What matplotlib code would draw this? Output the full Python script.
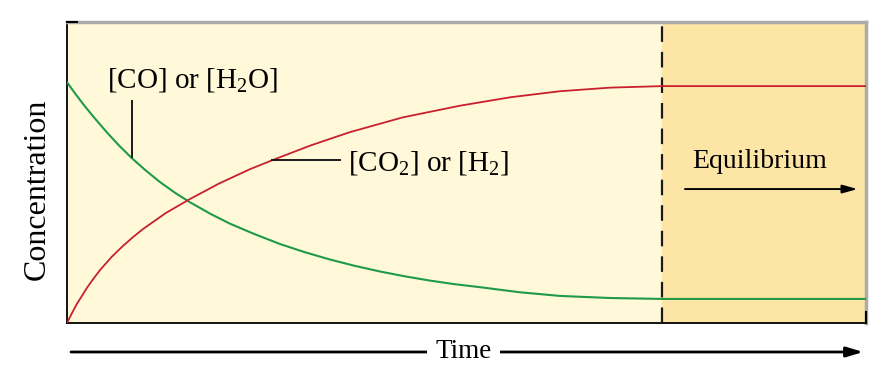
import matplotlib
matplotlib.use('Agg')
import matplotlib.pyplot as plt

plt.rcParams['font.family'] = ['Liberation Serif', 'DejaVu Serif']
plt.rcParams['mathtext.fontset'] = 'custom'
plt.rcParams['mathtext.rm'] = 'Liberation Serif'
plt.rcParams['mathtext.it'] = 'Liberation Serif'

# values (time 0-100, concentration 0-1)
t_green = [0, 1.0, 2.0, 3.25, 5.0, 6.5, 8.1, 9.8, 11.6, 13.5, 15.4, 18.0, 20.4, 23.5, 26.7,
           29.8, 32.9, 36.0, 39.2, 42.3, 45.4, 48.5, 51.7, 56.7, 61.7, 68.0, 74.5, 100]
c_green = [0.80, 0.763, 0.728, 0.687, 0.633, 0.590, 0.548, 0.508, 0.469, 0.433, 0.401, 0.362,
           0.330, 0.295, 0.262, 0.235, 0.211, 0.190, 0.171, 0.155, 0.141, 0.129, 0.119, 0.102,
           0.090, 0.083, 0.080, 0.080]

t_red = [0, 0.6, 1.25, 2.5, 3.3, 4.2, 5.6, 7.0, 8.2, 9.5, 12.4, 15.4, 19.0, 22.9, 25.7, 30.5,
         35.4, 42.0, 49.2, 55.5, 61.7, 68.0, 74.5, 100]
c_red = [0, 0.032, 0.064, 0.117, 0.147, 0.178, 0.220, 0.256, 0.284, 0.312, 0.366, 0.412, 0.463,
         0.511, 0.541, 0.590, 0.634, 0.683, 0.722, 0.750, 0.770, 0.782, 0.787, 0.787]

t_eq = 74.5
label_green = '[CO] or [H$_2$O]'
label_red = '[CO$_2$] or [H$_2$]'

fig = plt.figure(figsize=(8.9, 3.86), dpi=100)
ax = fig.add_axes([0.0753, 0.1632, 0.8977, 0.7798])
ax.set_xlim(0, 100)
ax.set_ylim(0, 1)
ax.set_facecolor('#FFF9DA')
ax.axvspan(t_eq, 100, color='#FDE6A5', zorder=0)
ax.axvline(t_eq, color='#1a1a1a', lw=1.6, ls=(0, (7, 4.5)), zorder=3)

ax.plot(t_green, c_green, color='#1E9A48', lw=1.5, zorder=4)
ax.plot(t_red, c_red, color='#C8202C', lw=1.3, zorder=4)

ax.set_xticks([])
ax.set_yticks([])
for s in ['left', 'bottom']:
    ax.spines[s].set_color('black')
    ax.spines[s].set_linewidth(1.3)
for s in ['top', 'right']:
    ax.spines[s].set_color('#ABABAB')
    ax.spines[s].set_linewidth(2.5)
# little black corner ticks
ax.plot([0, 0.012], [1, 1], color='black', lw=1.5, transform=ax.transAxes, clip_on=False, zorder=6)
ax.plot([1, 1], [0, 0.035], color='black', lw=1.5, transform=ax.transAxes, clip_on=False, zorder=6)

# curve labels
ax.plot([8.1, 8.1], [0.553, 0.738], color='#1a1a1a', lw=1.4, zorder=5)
ax.text(5.0, 0.808, label_green, fontsize=21, va='center', ha='left')
ax.plot([25.7, 34.2], [0.543, 0.543], color='#1a1a1a', lw=1.4, zorder=5)
ax.text(35.2, 0.533, label_red, fontsize=21, va='center', ha='left')

ax.text(78.2, 0.535, 'Equilibrium', fontsize=20, va='center', ha='left')
ax.annotate('', xy=(99.3, 0.445), xytext=(77.0, 0.445),
            arrowprops=dict(arrowstyle='-|>,head_length=0.9,head_width=0.25', color='black', lw=1.4))

fig.text(0.042, 0.51, 'Concentration', fontsize=23, rotation=90, va='center', ha='center')

# time arrow under the axes
ax.annotate('', xy=(1.0, -0.0963), xytext=(0.0015, -0.0963), xycoords='axes fraction',
            arrowprops=dict(arrowstyle='-|>,head_length=1.0,head_width=0.3', color='black', lw=2.0))
ax.text(0.4963, -0.0963, 'Time', transform=ax.transAxes, fontsize=19.5, va='center', ha='center',
        bbox=dict(facecolor='white', edgecolor='none', pad=6))

fig.savefig('out.png', dpi=100)
